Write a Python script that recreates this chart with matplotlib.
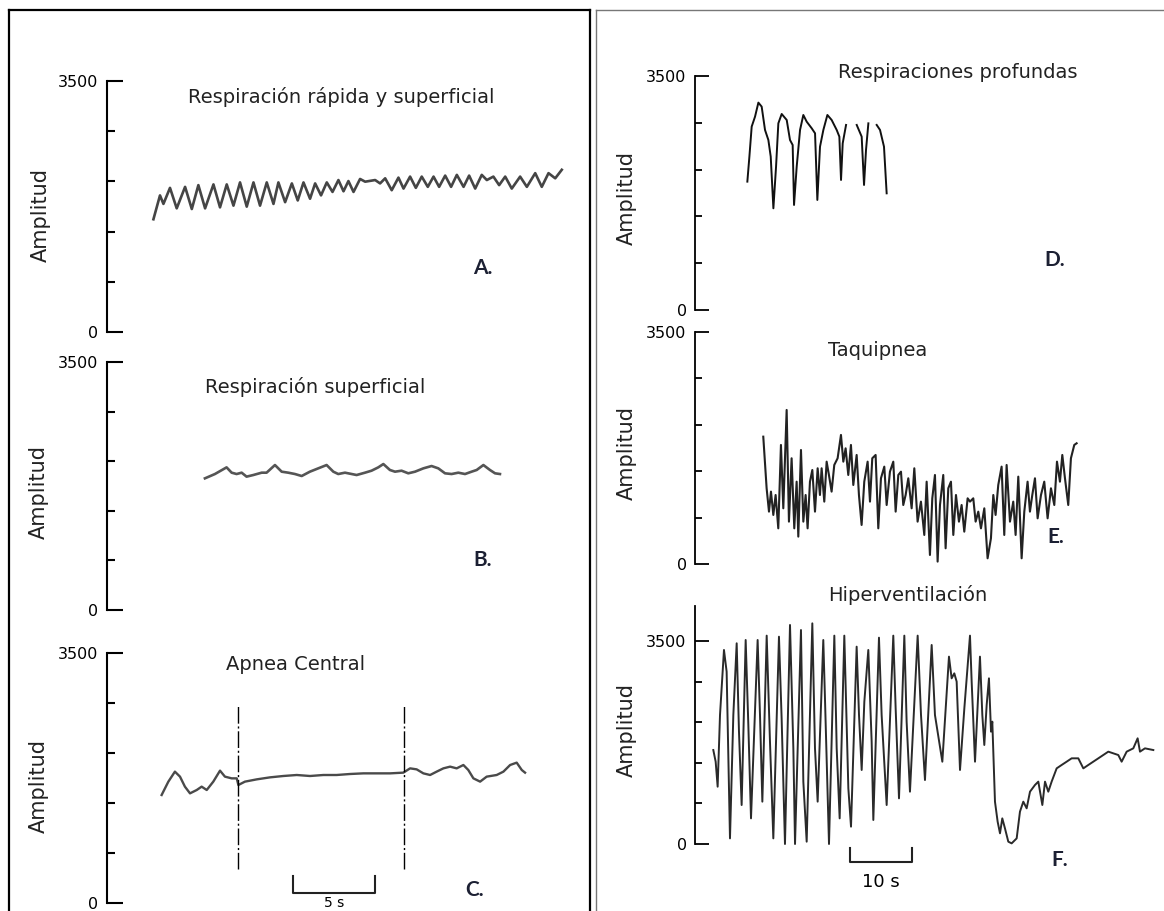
import numpy as np
import matplotlib
matplotlib.use("Agg")
import matplotlib.pyplot as plt
from matplotlib.lines import Line2D

W, H = 1164, 911
nan = np.nan

# ---- datos (t en s, amplitud) ----
# A. Respiracion rapida y superficial
a_t = [2.77, 3.17, 3.38, 3.78, 4.19, 4.70, 5.11, 5.51, 5.92, 6.43,
       6.83, 7.24, 7.65, 8.05, 8.46, 8.87, 9.27, 9.68, 10.09, 10.39,
       10.80, 11.21, 11.57, 11.92, 12.32, 12.63, 12.99, 13.34, 13.69, 14.05,
       14.36, 14.66, 14.97, 15.37, 15.68, 16.29, 16.59, 16.90, 17.30, 17.71,
       18.02, 18.42, 18.77, 19.13, 19.50, 19.85, 20.19, 20.56, 20.92, 21.27,
       21.68, 22.02, 22.39, 22.79, 23.10, 23.50, 23.85, 24.22, 24.62, 25.13,
       25.54, 26.05, 26.45, 26.86, 27.27, 27.67]
a_v = [1572, 1905, 1786, 2010, 1724, 2024, 1715, 2048, 1724, 2058,
       1738, 2058, 1762, 2086, 1748, 2086, 1762, 2086, 1786, 2086,
       1810, 2072, 1834, 2086, 1858, 2072, 1905, 2086, 1953, 2119,
       1962, 2105, 1953, 2134, 2096, 2119, 2072, 2143, 1977, 2153,
       2000, 2167, 2010, 2167, 2024, 2167, 2024, 2181, 2024, 2191,
       2024, 2181, 2000, 2191, 2119, 2167, 2048, 2167, 2000, 2167,
       2024, 2215, 2024, 2215, 2143, 2262]

# B. Respiracion superficial
b_t = [5.91, 6.52, 7.23, 7.54, 7.84, 8.15, 8.45, 8.86, 9.37, 9.67,
       10.18, 10.59, 10.99, 11.40, 11.81, 12.31, 12.82, 13.33, 13.74, 14.04,
       14.45, 14.86, 15.16, 15.67, 16.07, 16.48, 16.79, 17.19, 17.50, 17.90,
       18.31, 18.72, 19.23, 19.73, 20.14, 20.55, 20.95, 21.36, 21.77, 22.17,
       22.48, 22.89, 23.29, 23.60, 23.90]
b_v = [1858, 1919, 2013, 1938, 1919, 1938, 1882, 1905, 1938, 1938,
       2046, 1952, 1938, 1919, 1891, 1952, 1999, 2046, 1952, 1919,
       1938, 1919, 1905, 1938, 1966, 2013, 2060, 1976, 1952, 1966,
       1929, 1952, 1999, 2032, 1999, 1929, 1919, 1938, 1919, 1952,
       1976, 2046, 1976, 1929, 1919]

# C. Apnea central
c_t = [3.27, 3.68, 4.08, 4.39, 4.69, 5.00, 5.41, 5.71, 6.02, 6.42,
       6.83, 7.13, 7.54, 7.85, 7.95, 8.35, 9.07, 9.88, 10.69, 11.51,
       12.32, 13.13, 13.94, 14.76, 15.57, 16.38, 17.20, 18.01, 18.42, 18.82,
       19.23, 19.64, 20.04, 20.45, 20.86, 21.26, 21.67, 21.97, 22.28, 22.69,
       23.09, 23.70, 24.11, 24.52, 24.92, 25.23, 25.43]
c_v = [1512, 1699, 1839, 1769, 1629, 1535, 1582, 1629, 1582, 1699,
       1853, 1769, 1745, 1745, 1652, 1699, 1731, 1759, 1778, 1792,
       1778, 1792, 1792, 1806, 1815, 1815, 1815, 1825, 1885, 1871,
       1815, 1792, 1839, 1885, 1909, 1885, 1932, 1862, 1745, 1699,
       1769, 1792, 1839, 1932, 1965, 1862, 1825]
apnea_t = [7.9, 18.05]
apnea_v = (476, 2752)
scale_c = (11.3, 5.0)  # inicio, duracion (s)

# D. Respiraciones profundas
d_t = [8.12, 8.45, 8.82, 9.36, 9.90, 10.43, 10.97, 11.51, 11.89, 12.32,
       12.75, 13.12, 13.66, 14.47, 15.00, 15.43, 15.65, 16.08, 16.62, 17.15,
       17.69, 18.50, 19.04, 19.41, 19.84, 20.38, 21.03, 21.72, 22.53, 22.96,
       23.23, 23.50, 24.04, nan, 25.76, 26.56, 26.94, 27.26, 27.64, nan,
       28.98, 29.52, 30.16, 30.59]
d_v = [1920, 2294, 2743, 2892, 3102, 3042, 2693, 2543, 2294, 1521,
       2144, 2792, 2932, 2842, 2543, 2468, 1571, 2144, 2693, 2917,
       2817, 2718, 2643, 1646, 2443, 2693, 2917, 2842, 2693, 2593,
       1945, 2493, 2768, nan, 2768, 2593, 1870, 2394, 2792, nan,
       2768, 2693, 2443, 1745]

# E. Taquipnea
e_t = [10.69, 11.23, 11.61, 11.93, 12.31, 12.68, 13.11, 13.54, 13.92, 14.46,
       14.83, 15.26, 15.69, 16.07, 16.34, 16.77, 17.15, 17.52, 17.84, 18.22,
       18.60, 19.03, 19.46, 19.83, 20.10, 20.53, 20.91, 21.28, 21.71, 22.14,
       22.68, 23.22, 23.60, 23.97, 24.40, 24.83, 25.21, 25.75, 26.12, 26.55,
       26.98, 27.52, 27.90, 28.27, 28.81, 29.24, 29.67, 30.21, 30.59, 31.12,
       31.66, 32.04, 32.47, 32.90, 33.27, 33.65, 34.08, 34.62, 35.05, 35.58,
       36.12, 36.66, 37.04, 37.57, 37.95, 38.38, 38.81, 39.19, 39.72, 40.10,
       40.53, 40.96, 41.34, 41.77, 42.25, 42.68, 43.11, 43.65, 44.03, 44.56,
       44.94, 45.37, 45.80, 46.34, 46.87, 47.41, 47.79, 48.16, 48.59, 49.13,
       49.56, 49.94, 50.48, 51.01, 51.39, 51.82, 52.36, 52.79, 53.32, 53.70,
       54.08, 54.51, 54.94, 55.48, 56.01, 56.55, 57.09, 57.63, 58.06, 58.54,
       58.92, 59.35, 59.88, 60.31, 60.85, 61.23]
e_v = [1921, 1142, 790, 1092, 740, 1041, 538, 1796, 840, 2324,
       639, 1595, 538, 1242, 413, 1720, 639, 1041, 538, 1242,
       1418, 790, 1444, 1041, 1444, 941, 1544, 1343, 1092, 1494,
       1595, 1947, 1544, 1745, 1343, 1796, 1192, 1645, 1041, 589,
       1242, 1544, 941, 1595, 1645, 538, 1293, 1469, 890, 1393,
       1544, 790, 1343, 1393, 890, 1041, 1293, 840, 1444, 639,
       941, 438, 1242, 136, 991, 1343, 36, 890, 1343, 237,
       1142, 1242, 438, 1041, 639, 890, 488, 991, 941, 991,
       639, 790, 538, 840, 86, 388, 1041, 740, 1192, 1469,
       438, 1494, 639, 941, 438, 1318, 86, 790, 1242, 790,
       1041, 1293, 689, 1041, 1242, 689, 1142, 890, 1544, 1242,
       1645, 1293, 890, 1595, 1796, 1821]

# F. Hiperventilacion
f_t = [2.63, 3.01, 3.33, 3.71, 4.35, 4.78, 5.32, 5.86, 6.40, 6.77,
       7.20, 7.85, 8.28, 8.71, 9.78, 10.16, 10.54, 11.24, 11.77, 12.31,
       13.22, 13.65, 14.19, 15.00, 15.54, 15.81, 16.77, 17.15, 17.69, 18.60,
       19.03, 19.46, 20.37, 20.64, 21.29, 22.15, 22.53, 23.01, 23.76, 24.41,
       24.84, 25.75, 26.13, 26.56, 26.99, 27.63, 28.17, 28.44, 29.35, 29.78,
       30.59, 31.66, 32.04, 32.58, 33.44, 33.81, 34.35, 35.59, 36.13, 36.77,
       37.85, 38.38, 39.57, 40.64, 41.07, 41.50, 41.88, 42.42, 43.12, 44.03,
       44.30, 44.84, 45.64, 46.02, 46.34, 46.72, 47.09, 47.42, 47.63, 48.06,
       48.49, 48.87, 49.24, 49.67, 50.21, 50.75, 51.56, 52.09, 52.63, 53.17,
       53.71, 54.51, 55.05, 55.70, 56.13, 56.66, 57.20, 58.01, 58.81, 59.62,
       60.43, 61.50, 62.31, 63.11, 64.73, 66.34, 67.95, 68.49, 69.30, 70.37,
       71.07, 71.45, 72.25, 73.60]
f_v = [1620, 1419, 988, 2224, 3345, 2971, 97, 2224, 3460, 1937,
       672, 3517, 2052, 442, 3517, 2224, 730, 3592, 1764, 97,
       3574, 2166, 0, 3776, 1649, 0, 3689, 1075, 40, 3804,
       1649, 730, 3517, 2511, 0, 3592, 1649, 442, 3592, 960,
       299, 3402, 2224, 1276, 2454, 3345, 1764, 414, 3557, 2224,
       672, 3592, 2339, 787, 3592, 2109, 902, 3592, 2224, 1103,
       3431, 2224, 1419, 3230, 2856, 2942, 2799, 1276, 2339, 3592,
       2799, 1419, 3230, 2224, 1707, 2396, 2856, 1937, 2109, 730,
       385, 184, 442, 270, 40, 11, 97, 557, 730, 615,
       902, 1017, 1075, 672, 1075, 902, 1075, 1304, 1362, 1419,
       1477, 1477, 1304, 1362, 1477, 1592, 1534, 1419, 1592, 1649,
       1822, 1592, 1649, 1620]
scale_f = (24.7, 10.0)

titles = ["Respiración rápida y superficial", "Respiración superficial", "Apnea Central",
          "Respiraciones profundas", "Taquipnea", "Hiperventilación"]
letters = ["A.", "B.", "C.", "D.", "E.", "F."]
yticks_major = [0, 3500]
yticks_minor = [700, 1400, 2100, 2800]

fig = plt.figure(figsize=(W / 100, H / 100), dpi=100)


def fx(px):
    return px / W


def fy(py):
    return 1 - py / H


def make_ax(left, right, top, bottom, xlim, ytop, maj, mino, pad, lw):
    ax = fig.add_axes([fx(left), fy(bottom), (right - left) / W, (bottom - top) / H])
    ax.set_xlim(*xlim)
    ax.set_ylim(0, ytop)
    for s in ["top", "right", "bottom"]:
        ax.spines[s].set_visible(False)
    ax.spines["left"].set_bounds(0, ytop)
    ax.spines["left"].set_linewidth(lw)
    ax.set_xticks([])
    ax.set_yticks(yticks_major)
    ax.set_yticklabels([str(v) for v in yticks_major])
    ax.set_yticks(yticks_minor, minor=True)
    ax.tick_params(axis="y", which="major", direction="in", length=maj, width=lw,
                   pad=pad, labelsize=11.5)
    ax.tick_params(axis="y", which="minor", direction="in", length=mino, width=lw)
    ax.patch.set_alpha(0)
    return ax


# izquierda: 16.4 px/s, derecha: 6.2 px/s
xl_left = ((107 - 108) / 16.4, (585 - 108) / 16.4)
xl_right = ((695 - 697) / 6.2, (1160 - 697) / 6.2)

axA = make_ax(107, 585, 81, 332, xl_left, 3500, 11.5, 6, 6.5, 1.5)
axB = make_ax(107, 585, 362, 610, xl_left, 3500, 11.5, 6, 6.5, 1.5)
axC = make_ax(107, 585, 653, 903, xl_left, 3500, 11.5, 6, 6.5, 1.5)
axD = make_ax(695, 1160, 76, 310, xl_right, 3500, 10, 5, 6, 1.3)
axE = make_ax(695, 1160, 332, 564, xl_right, 3500, 10, 5, 6, 1.3)
axF = make_ax(695, 1160, 606, 844, xl_right, 4103, 10, 5, 6, 1.3)

axA.plot(a_t, a_v, color="#454545", lw=1.9)
axB.plot(b_t, b_v, color="#555555", lw=1.9)
axC.plot(c_t, c_v, color="#4a4a4a", lw=1.7)
axD.plot(d_t, d_v, color="#111111", lw=1.4)
axE.plot(e_t, e_v, color="#222222", lw=1.5)
axF.plot(f_t, f_v, color="#2a2a2a", lw=1.4, clip_on=False)

# lineas de apnea
for t in apnea_t:
    axC.plot([t, t], apnea_v, color="black", lw=1.0, dashes=(12, 2, 1.5, 2))

# barras de escala
s0, sd = scale_c
axC.plot([s0, s0, s0 + sd, s0 + sd], [372, 140, 140, 372], color="#222222", lw=1.5,
         clip_on=False)
axC.text(s0 + sd / 2, -95, "5 s", ha="center", va="bottom", fontsize=10, clip_on=False)
s0, sd = scale_f
axF.plot([s0, s0, s0 + sd, s0 + sd], [-69, -310, -310, -69], color="#222222", lw=1.5,
         clip_on=False)
axF.text(s0 + sd / 2, -655, "10 s", ha="center", va="center", fontsize=13, clip_on=False)

# titulos, letras y etiquetas
title_pos = [(341, 97), (315, 387), (296, 665), (958, 72), (878, 350), (908, 595)]
letter_pos = [(483, 268), (483, 560), (475, 890), (1055, 260), (1056, 537), (1060, 860)]
ylab_pos = [(41, 215), (39, 492), (39, 786), (627, 198), (627, 453), (627, 730)]

for txt, (x, y) in zip(titles, title_pos):
    fig.text(fx(x), fy(y), txt, ha="center", va="center", fontsize=14, color="#222222")
for txt, (x, y) in zip(letters, letter_pos):
    fig.text(fx(x), fy(y), txt, ha="center", va="center", fontsize=15,
             fontweight="bold", family=["Lato", "DejaVu Sans"], color="#1c2033")
for x, y in ylab_pos:
    fig.text(fx(x), fy(y), "Amplitud", ha="center", va="center", rotation=90,
             fontsize=15, color="#222222")

# marcos
frame = [((8.5, 8.5), (911, 10), "black", 1.6), ((8.5, 590), (10, 10), "black", 1.6),
         ((590, 590), (10, 911), "black", 1.6), ((596, 596), (9.5, 911), "#777777", 1.0),
         ((596, 1164), (9.5, 9.5), "#777777", 1.0)]
for xs, ys, col, lw in frame:
    fig.add_artist(Line2D([fx(xs[0]), fx(xs[1])], [fy(ys[0]), fy(ys[1])],
                          transform=fig.transFigure, color=col, lw=lw))

fig.savefig("out.png", dpi=100)
